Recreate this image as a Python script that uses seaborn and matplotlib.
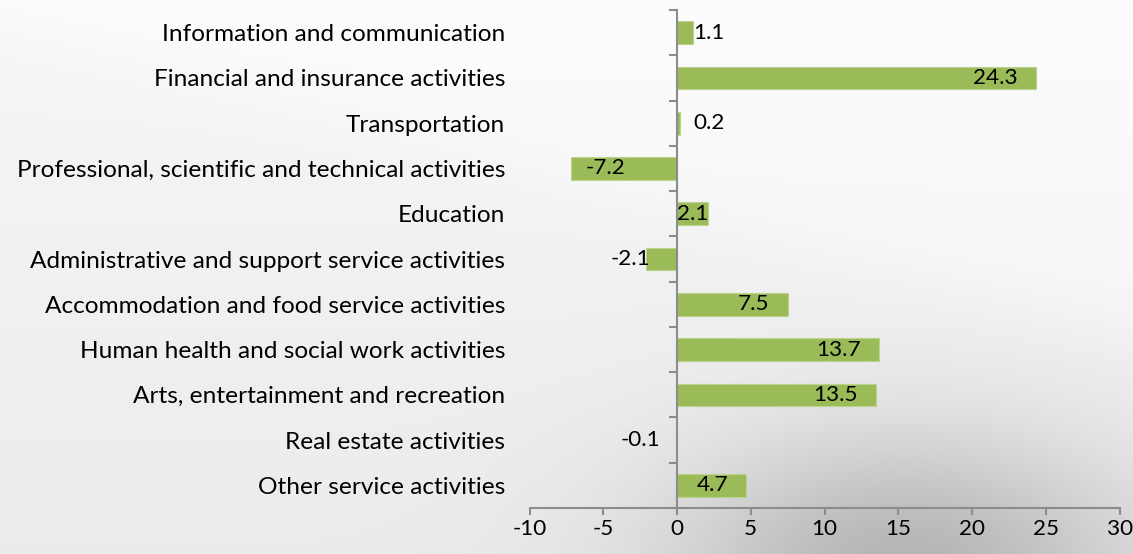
import numpy as np
import pandas as pd
import matplotlib
matplotlib.use("Agg")
import matplotlib.pyplot as plt
import seaborn as sns
from matplotlib.ticker import FixedLocator

categories = [
    "Information and communication",
    "Financial and insurance activities",
    "Transportation",
    "Professional, scientific and technical activities",
    "Education",
    "Administrative and support service activities",
    "Accommodation and food service activities",
    "Human health and social work activities",
    "Arts, entertainment and recreation",
    "Real estate activities",
    "Other service activities",
]
values = [1.1, 24.3, 0.2, -7.2, 2.1, -2.1, 7.5, 13.7, 13.5, -0.1, 4.7]
x_ticks = [-10, -5, 0, 5, 10, 15, 20, 25, 30]

sns.set_theme(style="white")
plt.rcParams["font.family"] = ["Lato", "DejaVu Sans"]

W, H, DPI = 1133, 554, 100
fig = plt.figure(figsize=(W / DPI, H / DPI), dpi=DPI)

# background gradient
bg = fig.add_axes([0, 0, 1, 1], zorder=-10)
u = np.linspace(0, 1, 400)[None, :]
v = np.linspace(0, 1, 200)[:, None]
L = 0.965 - 0.04 * v
L = L - 0.21 * np.exp(-(((u - 0.80) ** 2) / 0.045 + ((v - 1.02) ** 2) / 0.06))
wedge = 1 / (1 + np.exp(-((0.05 + 0.55 * u) - v) * 30))
L = L + 0.025 * wedge
L = np.clip(L, 0, 1)
img = np.dstack([L, L, L])
bg.imshow(img, aspect="auto", extent=[0, 1, 0, 1], origin="upper", interpolation="bicubic")
bg.set_axis_off()

ax = fig.add_axes([529.5 / W, 1 - 508 / H, (1119.7 - 529.5) / W, (508 - 10) / H])
ax.set_facecolor("none")

df = pd.DataFrame({"category": categories, "value": values})
sns.barplot(data=df, x="value", y="category", orient="h", width=0.5,
            color="#9BBB59", saturation=1, edgecolor="#bcd38f", linewidth=0.8, ax=ax)

ax.set_xlim(-10, 30)
ax.set_ylim(len(categories) - 0.5, -0.5)
ax.set_xlabel("")
ax.set_ylabel("")

fs_cat = 17.6
fs_num = 16.2
axis_gray = "#8c8c8c"

for s in ["top", "right"]:
    ax.spines[s].set_visible(False)
ax.spines["left"].set_position(("data", 0))
ax.spines["left"].set_color(axis_gray)
ax.spines["left"].set_linewidth(1.5)
ax.spines["bottom"].set_color(axis_gray)
ax.spines["bottom"].set_linewidth(1.5)

ax.set_xticks(x_ticks)
ax.set_xticklabels([str(t) for t in x_ticks], fontsize=fs_num, color="black")
ax.tick_params(axis="x", which="major", direction="out", length=5, width=1.5,
               color=axis_gray, pad=3, bottom=True)

ax.set_yticks(range(len(categories)))
ax.set_yticklabels(categories, fontsize=fs_cat, color="black")
ax.yaxis.set_minor_locator(FixedLocator(np.arange(-0.5, len(categories), 1.0)))
ax.tick_params(axis="y", which="major", length=0, pad=172 * 0.72, left=True)
ax.tick_params(axis="y", which="minor", direction="out", length=5.5, width=1.5,
               color=axis_gray, left=True)

# value labels
for i, val in enumerate(values):
    txt = f"{val:.1f}"
    kw = dict(textcoords="offset points", va="center", fontsize=fs_num, color="black")
    if val >= 4:
        ax.annotate(txt, (val, i), xytext=(-13, 0), ha="right", **kw)
    elif val <= -4:
        ax.annotate(txt, (val, i), xytext=(11, 0), ha="left", **kw)
    elif val >= 1.5:
        ax.annotate(txt, (val, i), xytext=(0, 0), ha="right", **kw)
    elif val <= -1.5:
        ax.annotate(txt, (val, i), xytext=(3, 0), ha="right", **kw)
    elif val >= 0:
        ax.annotate(txt, (0, i), xytext=(12, 0), ha="left", **kw)
    else:
        ax.annotate(txt, (0, i), xytext=(-12, 0), ha="right", **kw)

fig.savefig("out.png", dpi=DPI)
